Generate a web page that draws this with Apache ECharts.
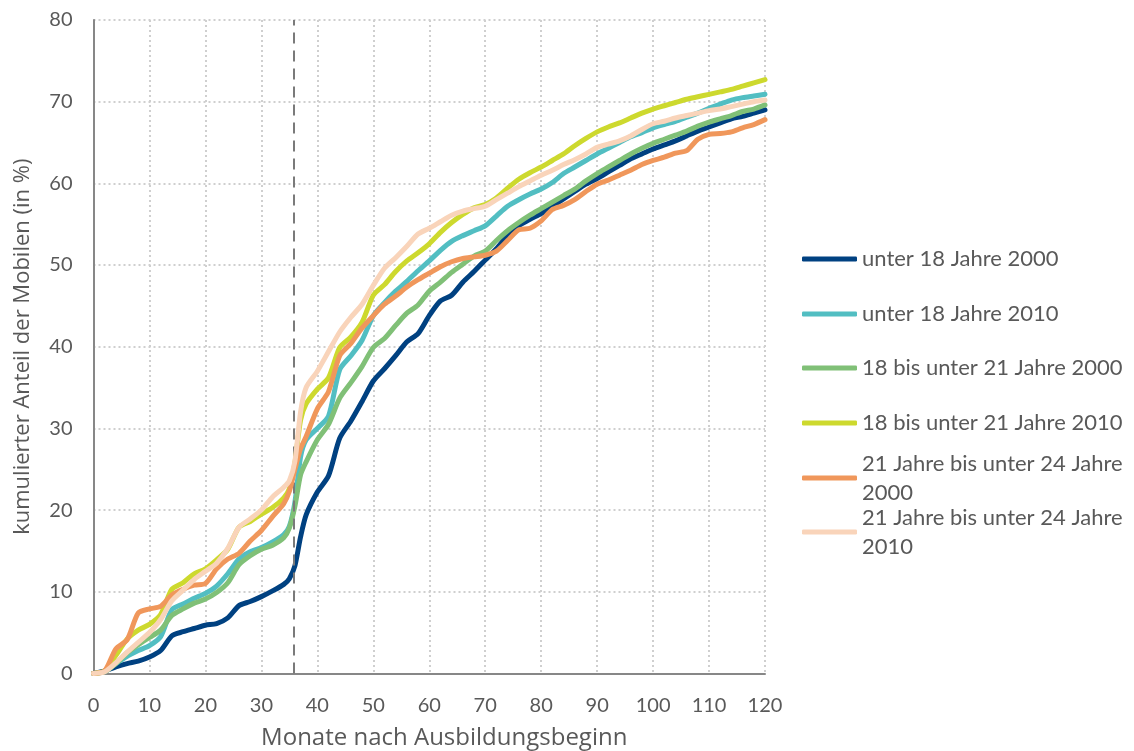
<!DOCTYPE html>
<html><head><meta charset="utf-8">
<script src="https://cdn.jsdelivr.net/npm/echarts@6/dist/echarts.min.js"></script>
<style>html,body{margin:0;padding:0;background:#fff}#c{width:1134px;height:751px}</style>
</head><body><div id="c"></div>
<script>
const months = [0,2,4,6,8,10,12,14,16,18,20,22,24,26,28,30,32,34,35,36,37,38,40,42,44,46,48,50,52,54,56,58,60,62,64,66,68,70,72,74,76,78,80,82,84,86,88,90,92,94,96,98,100,102,104,106,108,110,112,114,116,118,120];

const seriesNames = ['unter 18 Jahre 2000','unter 18 Jahre 2010','18 bis unter 21 Jahre 2000','18 bis unter 21 Jahre 2010','21 Jahre bis unter 24 Jahre 2000','21 Jahre bis unter 24 Jahre 2010'];
const legendLabels = ['unter 18 Jahre 2000','unter 18 Jahre 2010','18 bis unter 21 Jahre 2000','18 bis unter 21 Jahre 2010','21 Jahre bis unter 24 Jahre\n2000','21 Jahre bis unter 24 Jahre\n2010'];

const u18_2000 = [0,0.3,0.8,1.2,1.5,2.0,2.8,4.6,5.1,5.5,5.9,6.1,6.8,8.3,8.8,9.4,10.1,10.9,11.6,13.2,16.7,19.4,22.2,24.2,28.8,30.9,33.3,35.8,37.3,38.9,40.6,41.6,43.8,45.6,46.3,47.9,49.2,50.6,52.0,53.6,54.8,55.6,56.3,57.2,58.1,59.0,59.9,60.6,61.4,62.2,63.0,63.6,64.2,64.7,65.2,65.8,66.4,66.9,67.4,67.9,68.2,68.6,69.0];
const u18_2010 = [0,0.2,1.2,2.1,2.8,3.4,4.5,7.8,8.5,9.2,9.8,10.7,12.2,14.0,14.9,15.4,16.1,17.0,18.0,21.0,26.5,28.6,30.0,31.5,37.2,38.9,40.8,43.8,45.4,46.8,48.0,49.3,50.5,51.8,52.9,53.6,54.2,54.8,56.0,57.2,58.0,58.7,59.3,60.1,61.2,62.0,62.8,63.6,64.3,65.0,65.7,66.2,66.8,67.2,67.6,68.1,68.6,69.2,69.7,70.2,70.5,70.7,70.9];
const a18_21_2000 = [0,0.2,1.2,2.5,3.5,4.4,5.3,7.1,7.9,8.6,9.1,9.9,11.1,13.3,14.4,15.2,15.7,16.6,17.8,20.5,24.3,25.9,28.6,30.5,33.7,35.6,37.6,39.9,41.0,42.6,44.1,45.1,46.8,47.9,49.1,50.1,51.1,51.7,53.0,54.2,55.2,56.1,56.9,57.7,58.5,59.3,60.3,61.2,62.0,62.8,63.6,64.3,64.9,65.4,65.9,66.4,67.0,67.5,67.9,68.3,68.8,69.1,69.6];
const a18_21_2010 = [0,0.3,2.2,4.2,5.3,6.0,7.2,10.3,11.1,12.2,12.8,13.9,15.2,17.9,18.6,19.5,20.3,21.5,22.6,25.8,31.0,33.0,34.8,36.2,39.9,41.2,43.0,46.3,47.6,49.2,50.5,51.5,52.6,54.0,55.2,56.2,57.0,57.4,58.2,59.4,60.5,61.3,62.0,62.8,63.6,64.6,65.5,66.3,66.9,67.4,68.0,68.6,69.1,69.5,69.9,70.3,70.6,70.9,71.2,71.5,71.9,72.3,72.7];
const a21_24_2000 = [0,0.3,3.0,4.1,7.4,7.9,8.2,9.6,10.3,10.8,11.0,12.8,14.0,14.7,16.2,17.5,19.2,20.8,22.3,25.0,27.5,29.0,32.4,34.5,38.9,40.4,42.3,43.8,45.2,46.2,47.3,48.2,49.0,49.8,50.4,50.8,51.0,51.2,51.7,53.0,54.3,54.5,55.4,56.8,57.3,58.0,59.0,59.9,60.4,61.0,61.6,62.3,62.8,63.2,63.7,64.0,65.4,66.0,66.1,66.3,66.8,67.2,67.8];
const a21_24_2010 = [0,0.2,1.3,2.6,3.8,5.0,6.6,8.9,10.2,11.5,12.5,13.5,15.3,17.9,18.9,20.0,21.6,22.8,23.6,26.0,32.0,35.0,37.0,39.4,41.8,43.6,45.2,47.5,49.6,50.9,52.3,53.8,54.5,55.3,56.1,56.6,56.9,57.2,58.0,58.8,59.6,60.3,61.0,61.6,62.3,62.9,63.6,64.4,64.8,65.2,65.8,66.6,67.3,67.6,68.0,68.3,68.6,68.9,69.1,69.4,69.7,70.0,70.2];

const markerMonth = 35.7;

const allValues = [u18_2000,u18_2010,a18_21_2000,a18_21_2010,a21_24_2000,a21_24_2010];
const colors = ['#004181','#52bec2','#80c077','#cdd92e','#f0975b','#f9d4ba'];
const legendCenters = [259,314,368,423,478,532];

const chart = echarts.init(document.getElementById('c'), null, {renderer:'canvas'});
const txt = '#595959';
const option = {
  animation:false,
  backgroundColor:'#fff',
  grid:{left:93.5, right:369, top:20, bottom:77.6, containLabel:false, outerBoundsMode:'none'},
  xAxis:{type:'value', min:0, max:120, interval:10,
    name:'Monate nach Ausbildungsbeginn', nameLocation:'middle', nameGap:53,
    nameTextStyle:{fontFamily:'Open Sans', fontSize:24, color:txt, padding:[0,0,0,30]},
    axisLine:{lineStyle:{color:'#878787', width:2}}, axisTick:{show:false},
    axisLabel:{fontFamily:'Lato', fontSize:20, color:txt, margin:22},
    splitLine:{show:true, lineStyle:{color:'#cfcfcf', width:2, type:[2,3]}}},
  yAxis:{type:'value', min:0, max:80, interval:10,
    name:'kumulierter Anteil der Mobilen (in %)', nameLocation:'middle', nameGap:60,
    nameTextStyle:{fontFamily:'Open Sans', fontSize:22, color:txt},
    axisLine:{show:true, lineStyle:{color:'#878787', width:2}}, axisTick:{show:false},
    axisLabel:{fontFamily:'Lato', fontSize:20, color:txt, margin:21},
    splitLine:{show:true, lineStyle:{color:'#cfcfcf', width:2, type:[2,3]}}},
  legend: seriesNames.map((n,i)=>{
    const two = legendLabels[i].indexOf('\n')>=0;
    return {
      data:[n], orient:'vertical', left:802,
      top: two ? legendCenters[i]-43.5 : legendCenters[i]-12,
      padding:0, itemWidth:55, itemHeight:5, icon:'roundRect', selectedMode:false,
      formatter: legendLabels[i],
      textStyle:{fontFamily:'Lato', fontSize:22, color:txt, lineHeight: two?29:24, padding: two?[29,0,0,0]:0}
    };
  }),
  series: seriesNames.map((n,i)=>{
    const s = {
      name:n, type:'line', showSymbol:false, symbol:'none', smooth:0.25,
      data: months.map((m,k)=>[m, allValues[i][k]]),
      color: colors[i],
      lineStyle:{color:colors[i], width:5, cap:'round', join:'round'},
      z: 2+i
    };
    if(i===seriesNames.length-1){
      s.markLine = {silent:true, symbol:'none', label:{show:false},
        lineStyle:{color:'#7a7a7a', width:2, type:[11,7]},
        data:[{xAxis:markerMonth}]};
    }
    return s;
  })
};
chart.setOption(option);
</script></body></html>
